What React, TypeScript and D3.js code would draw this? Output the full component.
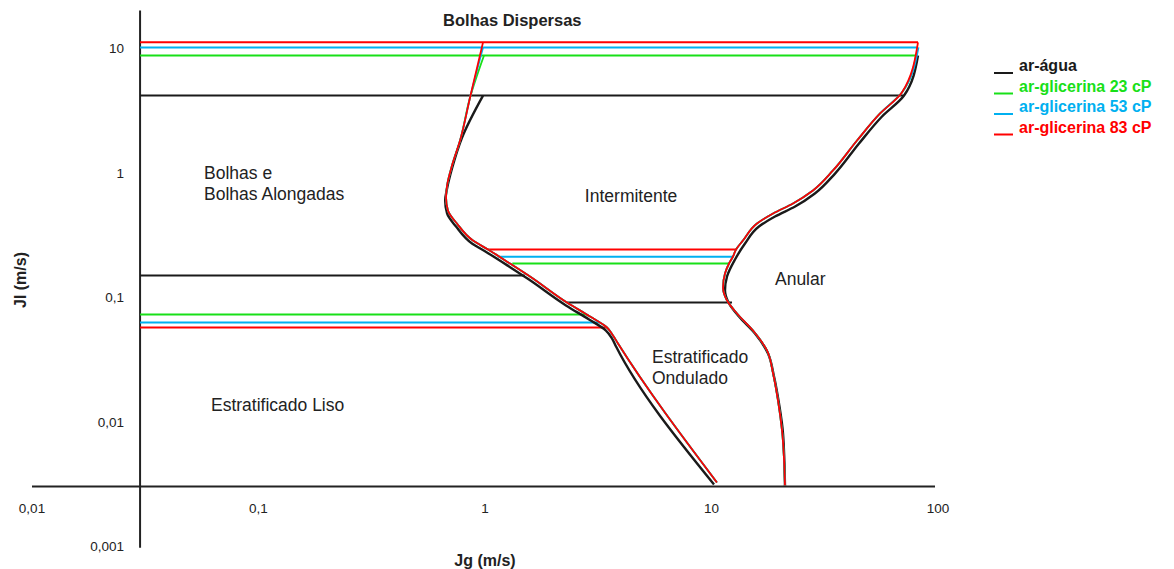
import React from "react";
import * as d3 from "d3";

// ---------- data (Jg, Jl in m/s) ----------
const seriesNames = ["ar-água", "ar-glicerina 23 cP", "ar-glicerina 53 cP", "ar-glicerina 83 cP"];
const seriesColors = ["#1a1a1a", "#18e018", "#00b0f0", "#ff0000"];

const xTicks = [0.01, 0.1, 1, 10, 100];
const xTickLabels = ["0,01", "0,1", "1", "10", "100"];
const yTicks = [10, 1, 0.1, 0.01, 0.001];
const yTickLabels = ["10", "1", "0,1", "0,01", "0,001"];

// horizontal transition lines: [jgStart, jgEnd, jl] per series (água, 23, 53, 83)
const dispersedBoundary = [
  [0.03, 70.5, 4.15],
  [0.03, 80, 8.7],
  [0.03, 81.6, 10.1],
  [0.03, 81.6, 11.1],
];
const intermittentBoundary = [
  [0.03, 1.5, 0.149],
  [1.32, 11.95, 0.186],
  [1.14, 12.44, 0.211],
  [1.03, 12.83, 0.241],
];
const stratifiedBoundary = [
  [2.3, 12.32, 0.0903],
  [0.03, 2.82, 0.0724],
  [0.03, 3.22, 0.0624],
  [0.03, 3.46, 0.0569],
];

// left transition curve
const leftCurveAgua = [
  [0.98, 4.15], [0.792, 1.91], [0.715, 1.077], [0.68, 0.744], [0.667, 0.596], [0.68, 0.469],
  [0.745, 0.368], [0.876, 0.269], [1.02, 0.228], [1.276, 0.176], [1.564, 0.138], [2.277, 0.0855],
  [2.88, 0.066], [3.42, 0.0538], [3.64, 0.0464], [3.79, 0.04], [10.26, 0.00312],
];
const leftCurveGlicerina = [
  [0.859, 4.0], [0.776, 1.807], [0.715, 1.138], [0.68, 0.786], [0.673, 0.63], [0.686, 0.495],
  [0.752, 0.389], [0.885, 0.284], [1.031, 0.2407], [1.289, 0.1858], [1.58, 0.1461], [2.3, 0.0903],
  [2.909, 0.0697], [3.456, 0.0569], [3.674, 0.0491], [3.866, 0.0423], [10.57, 0.00324],
];
const leftTops = [[0.99, 8.7], [0.98, 10.1], [0.98, 11.1]];

// right transition curve
const rightCurveAgua = [
  [81.6, 8.7], [70.8, 4.15], [56.6, 2.818], [44.8, 1.71], [35.1, 0.98], [28.6, 0.678], [23.4, 0.533],
  [19.07, 0.443], [16.2, 0.368], [14.06, 0.269], [12.7, 0.2], [11.71, 0.1461], [11.47, 0.1128],
  [11.95, 0.0887], [13.22, 0.0697], [15.56, 0.0509], [17.76, 0.0352], [18.88, 0.023], [19.86, 0.01395],
  [20.69, 0.008], [21.11, 0.003],
];
const rightCurveGlicerina = [
  [69.3, 4.39], [55.5, 2.978], [43.9, 1.807], [34.4, 1.038], [28.06, 0.717], [22.9, 0.564], [18.7, 0.469],
  [15.88, 0.389], [13.77, 0.284], [12.83, 0.2407], [12.44, 0.2114], [11.95, 0.1858], [11.47, 0.1544],
  [11.24, 0.1192], [11.71, 0.0937], [12.96, 0.0737], [15.25, 0.0538], [17.58, 0.0372], [18.7, 0.0243],
  [19.66, 0.01475], [20.48, 0.00847], [21.11, 0.00306],
];
const rightTops = [[80, 8.7], [82, 10.1], [81.6, 11.1]];

const regionLabels = [
  { lines: ["Bolhas Dispersas"], jg: 0.653, jl: 15.0, bold: true },
  { lines: ["Bolhas e", "Bolhas Alongadas"], jg: 0.0575, jl: 0.88, bold: false },
  { lines: ["Intermitente"], jg: 2.76, jl: 0.58, bold: false },
  { lines: ["Anular"], jg: 19.07, jl: 0.125, bold: false },
  { lines: ["Estratificado", "Ondulado"], jg: 5.46, jl: 0.0295, bold: false },
  { lines: ["Estratificado Liso"], jg: 0.0617, jl: 0.0121, bold: false },
];

// ---------- chart ----------
const W = 1174;
const H = 569;
const x = d3.scaleLog().domain([0.01, 100]).range([32, 938]);
const y = d3.scaleLog().domain([0.001, 10]).range([546, 48]);
const font = "'Liberation Sans', Arial, sans-serif";

const line = d3
  .line<number[]>()
  .x((d) => x(d[0]))
  .y((d) => y(d[1]))
  .curve(d3.curveMonotoneY);

export default function App() {
  const leftCurves = [leftCurveAgua, ...leftTops.map((t) => [t, ...leftCurveGlicerina])];
  const rightCurves = [rightCurveAgua, ...rightTops.map((t) => [t, ...rightCurveGlicerina])];
  const hLines = [dispersedBoundary, intermittentBoundary, stratifiedBoundary];

  return (
    <svg
      width={W}
      height={H}
      style={{ position: "absolute", left: 0, top: 0, background: "#fff" }}
      fontFamily={font}
    >
      <rect width={W} height={H} fill="#fff" />
      {/* axes */}
      <line x1={x(0.01)} x2={x(100) - 3} y1={y(0.003)} y2={y(0.003)} stroke="#222" strokeWidth={2} />
      <line x1={x(0.03)} x2={x(0.03)} y1={y(20)} y2={y(0.00097)} stroke="#222" strokeWidth={2} />

      {/* horizontal transitions */}
      {hLines.map((set, k) =>
        set.map((d, i) => (
          <line
            key={`h${k}-${i}`}
            x1={x(d[0])}
            x2={x(d[1])}
            y1={y(d[2])}
            y2={y(d[2])}
            stroke={seriesColors[i]}
            strokeWidth={2}
          />
        ))
      )}

      {/* curves */}
      {[leftCurves, rightCurves].map((set, k) =>
        set.map((c, i) => (
          <path
            key={`c${k}-${i}`}
            d={line(c) || ""}
            fill="none"
            stroke={seriesColors[i]}
            strokeWidth={i === 0 ? 2.4 : 1.8}
            strokeLinejoin="round"
          />
        ))
      )}

      {/* tick labels */}
      {xTicks.map((t, i) => (
        <text key={`xt${i}`} x={x(t)} y={513} textAnchor="middle" fontSize={13.5} fill="#222">
          {xTickLabels[i]}
        </text>
      ))}
      {yTicks.map((t, i) => (
        <text key={`yt${i}`} x={124} y={y(t) + 5} textAnchor="end" fontSize={13.5} fill="#222">
          {yTickLabels[i]}
        </text>
      ))}

      {/* axis titles */}
      <text x={x(1)} y={566} textAnchor="middle" fontSize={16} fontWeight="bold" fill="#222">
        Jg (m/s)
      </text>
      <text
        transform={`translate(26,${y(0.1) - 17}) rotate(-90)`}
        textAnchor="middle"
        fontSize={16}
        fontWeight="bold"
        fill="#222"
      >
        Jl (m/s)
      </text>

      {/* region labels */}
      {regionLabels.map((r, i) => (
        <text
          key={`r${i}`}
          x={x(r.jg)}
          y={y(r.jl)}
          fontSize={r.bold ? 16.5 : 17.5}
          fontWeight={r.bold ? "bold" : "normal"}
          fill="#222"
        >
          {r.lines.map((l, j) => (
            <tspan key={j} x={x(r.jg)} dy={j === 0 ? 0 : 21}>
              {l}
            </tspan>
          ))}
        </text>
      ))}

      {/* legend */}
      {seriesNames.map((n, i) => (
        <g key={`lg${i}`} transform={`translate(994,${71 + i * 20.5})`}>
          <line x1={0} x2={19} y1={2} y2={2} stroke={seriesColors[i]} strokeWidth={2} />
          <text x={25} y={0} fontSize={16} fontWeight="bold" fill={seriesColors[i]}>
            {n}
          </text>
        </g>
      ))}
    </svg>
  );
}
